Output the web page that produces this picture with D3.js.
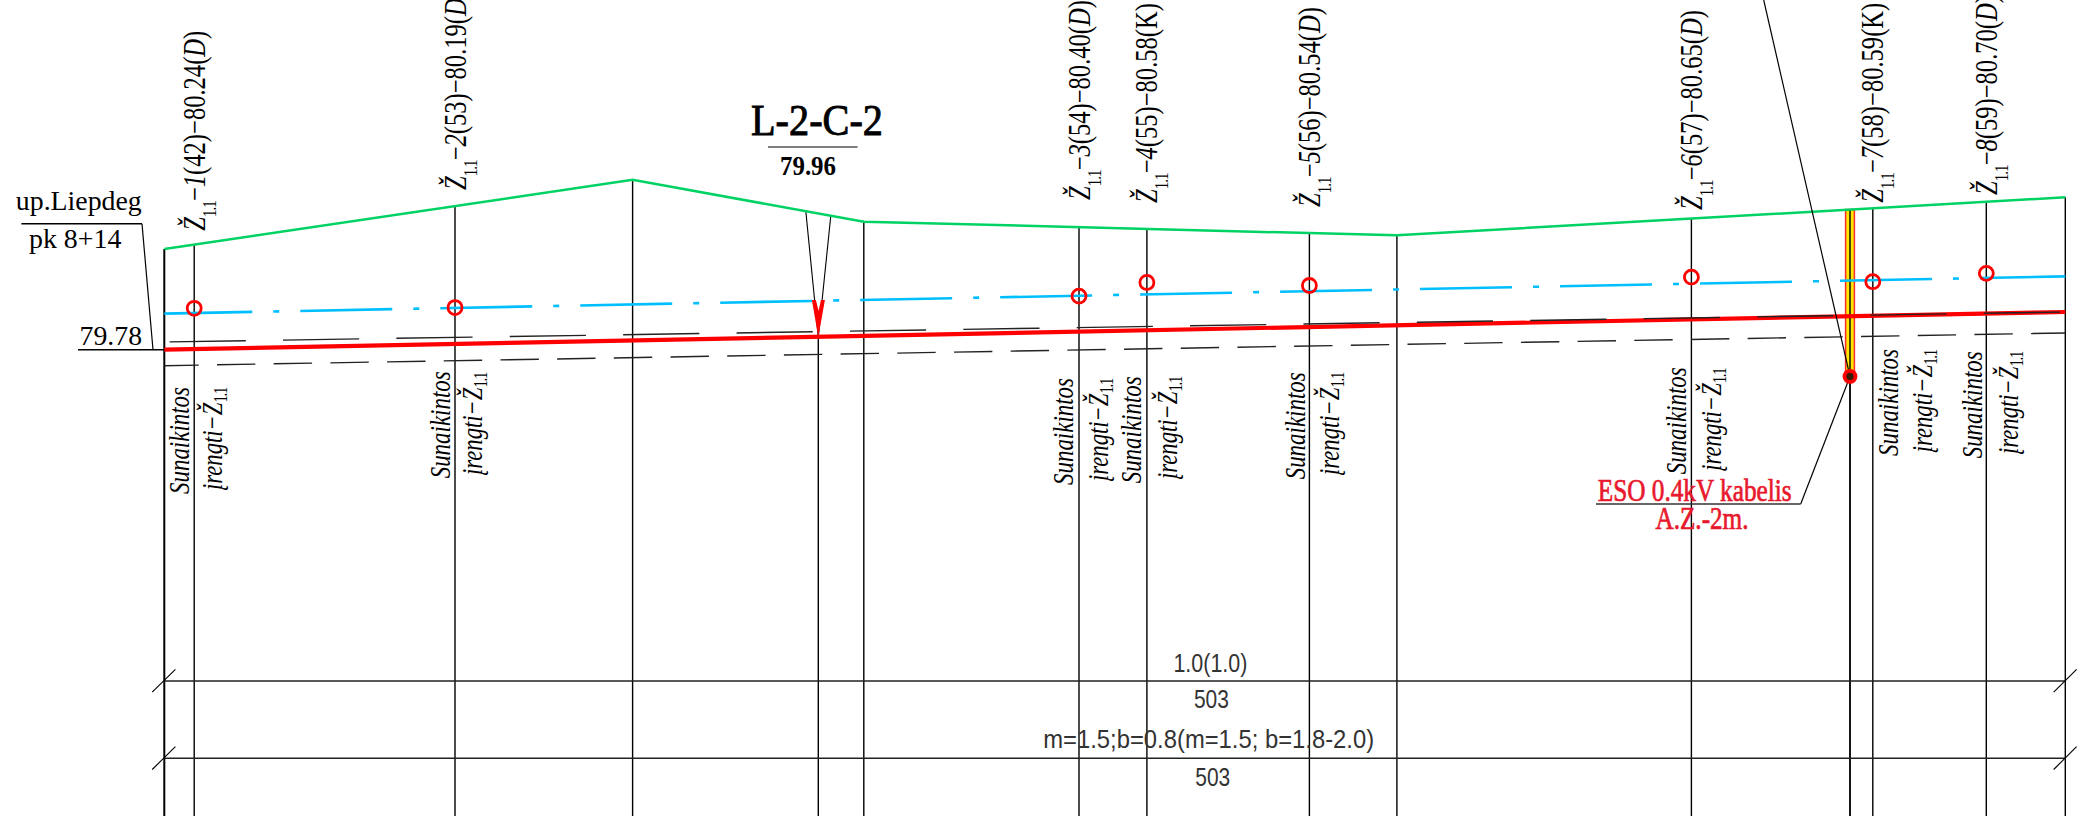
<!DOCTYPE html>
<html>
<head>
<meta charset="utf-8">
<script src="https://cdn.jsdelivr.net/npm/d3@7"></script>
<style>
  html, body { margin: 0; padding: 0; background: #fff; overflow: hidden; }
  svg { display: block; }
</style>
</head>
<body>
<svg></svg>
<script>
// stations in metres from the start of the sheet, elevations in metres
var terrainStations = [0, 46.83, 69.95, 123.26, 190.1];
var terrainLevels = [81.02, 81.93, 81.38, 81.20, 81.70];

var edgeStations = [0, 190.1];
var waterLevels = [80.17, 80.66];
var bottomLevels = [79.695, 80.191];
var upperDashLevels = [79.797, 80.191];
var lowerDashLevels = [79.485, 79.915];

// wells
var wellStations = [2.99, 29.07, 91.47, 98.26, 114.51, 152.71, 170.85, 182.2];
var wellLevels = [80.24, 80.25, 80.40, 80.58, 80.54, 80.65, 80.59, 80.70];
var wellNumbers = ["1", "2", "3", "4", "5", "6", "7", "8"];
var wellCodes = ["42", "53", "54", "55", "56", "57", "58", "59"];
var wellMarks = ["80.24", "80.19", "80.40", "80.58", "80.54", "80.65", "80.59", "80.70"];
var wellTypes = ["D", "D", "D", "K", "D", "D", "K", "D"];

// other cross sections without a well
var plainStations = [0, 46.83, 69.95, 123.26, 190.1];
var culvertStation = 65.4;
var cableStation = 168.57;
var cableLevel = 79.343;

var svgWidth = 2087, svgHeight = 816;

var x = d3.scaleLinear().domain([0, 190.1]).range([164.3, 2065.3]);
var y = d3.scaleLinear().domain([79, 82]).range([402.54, 174.54]);
var terrainAt = d3.scaleLinear().domain(terrainStations).range(terrainLevels);

var svg = d3.select("svg")
  .attr("width", svgWidth)
  .attr("height", svgHeight)
  .attr("viewBox", "0 0 " + svgWidth + " " + svgHeight);

var serif = "'Liberation Serif', serif";
var sans = "'Liberation Sans', sans-serif";

var line = d3.line()
  .x(function(d) { return x(d[0]); })
  .y(function(d) { return y(d[1]); });

function pairs(xs, ys) {
  return xs.map(function(v, i) { return [v, ys[i]]; });
}

function seg(x1, y1, x2, y2, w, col) {
  return svg.append("line")
    .attr("x1", x1).attr("y1", y1).attr("x2", x2).attr("y2", y2)
    .attr("stroke", col || "#000")
    .attr("stroke-width", w);
}

// squeeze a text to the width it has in the drawing
function fit(t, px, x0, y0, rotated) {
  var k = px / t.node().getComputedTextLength();
  t.attr("transform", "translate(" + x0 + "," + y0 + ")" + (rotated ? " rotate(-90)" : "") + " scale(" + k + ",1)");
  return t;
}

function label(str, cx, base, px, size, col, fam) {
  var t = svg.append("text")
    .attr("text-anchor", "middle")
    .attr("font-family", fam || serif)
    .attr("font-size", size)
    .attr("fill", col || "#000")
    .text(str);
  return fit(t, px, cx, base);
}

// vertical section lines
var allVerticals = plainStations.concat(wellStations, [cableStation]);
svg.selectAll(".section")
  .data(allVerticals)
  .enter()
  .append("line")
  .attr("class", "section")
  .attr("x1", function(d) { return x(d); })
  .attr("x2", function(d) { return x(d); })
  .attr("y1", function(d) { return y(terrainAt(d)); })
  .attr("y2", svgHeight)
  .attr("stroke", "#000")
  .attr("stroke-width", function(d) { return d === 0 ? 2 : 1.4; });

// culvert pointer
var tipY = y(79.86);
seg(x(culvertStation), tipY, x(culvertStation), svgHeight, 1.4);
seg(805.8, y(terrainAt(64.15)), x(culvertStation), tipY, 1.1);
seg(830.8, y(terrainAt(66.65)), x(culvertStation), tipY, 1.1);

// cable strip
svg.append("rect")
  .attr("x", x(cableStation) - 4.4)
  .attr("y", y(terrainAt(cableStation)))
  .attr("width", 8.8)
  .attr("height", y(cableLevel) - y(terrainAt(cableStation)))
  .attr("fill", "#ffe600")
  .attr("stroke", "#ff2a2a")
  .attr("stroke-width", 1.5);
seg(x(cableStation), y(terrainAt(cableStation)), x(cableStation), svgHeight, 1.4);

// terrain
svg.append("path")
  .attr("d", line(pairs(terrainStations, terrainLevels)))
  .attr("fill", "none")
  .attr("stroke", "#00d264")
  .attr("stroke-width", 2.5);

// water level, dash dot
svg.append("path")
  .attr("d", line(pairs(edgeStations, waterLevels)))
  .attr("fill", "none")
  .attr("stroke", "#00bfff")
  .attr("stroke-width", 2.6)
  .attr("stroke-dasharray", "92,21,6,21")
  .attr("stroke-dashoffset", 4);

// ditch bottom
svg.append("path")
  .attr("d", line(pairs(edgeStations, bottomLevels)))
  .attr("fill", "none")
  .attr("stroke", "#ff0000")
  .attr("stroke-width", 4.2);

svg.append("path")
  .attr("d", line(pairs(edgeStations, upperDashLevels)))
  .attr("fill", "none")
  .attr("stroke", "#222")
  .attr("stroke-width", 1.4)
  .attr("stroke-dasharray", "76.2,37.2")
  .attr("stroke-dashoffset", -5.3);

svg.append("path")
  .attr("d", line(pairs(edgeStations, lowerDashLevels)))
  .attr("fill", "none")
  .attr("stroke", "#222")
  .attr("stroke-width", 1.4)
  .attr("stroke-dasharray", "38.4,18.3")
  .attr("stroke-dashoffset", 4);

// red arrow head of the culvert
var cx = x(culvertStation);
svg.append("path")
  .attr("d", "M" + (cx - 6.4) + ",300 L" + cx + "," + tipY + " L" + (cx + 6.6) + ",300 L" + (cx + 2.6) + ",300 L" + (cx + 0.3) + ",311 L" + (cx - 2.4) + ",300 Z")
  .attr("fill", "#ff0000");

// well circles
svg.selectAll(".well")
  .data(wellStations)
  .enter()
  .append("circle")
  .attr("class", "well")
  .attr("cx", function(d) { return x(d); })
  .attr("cy", function(d, i) { return y(wellLevels[i]); })
  .attr("r", 7)
  .attr("fill", "none")
  .attr("stroke", "#ff0000")
  .attr("stroke-width", 2.8);

// cable point and its leaders
seg(1763.7, 0, x(cableStation), y(cableLevel), 1.2);
seg(x(cableStation), y(cableLevel), 1800.7, 504, 1.2);
seg(1800.7, 504, 1596, 504, 1.6, "#333");
svg.append("circle")
  .attr("cx", x(cableStation))
  .attr("cy", y(cableLevel))
  .attr("r", 7.4)
  .attr("fill", "#ff0000");
svg.append("circle")
  .attr("cx", x(cableStation))
  .attr("cy", y(cableLevel))
  .attr("r", 3.6)
  .attr("fill", "#3a1a00");

// rotated well labels above the terrain
var wellLabelBottoms = [230.7, 190, 200, 203, 207, 210, 202.7, 195];
wellStations.forEach(function(st, i) {
  var t = svg.append("text")
    .attr("font-family", serif)
    .attr("font-size", 31)
    .attr("fill", "#000");
  t.append("tspan").attr("font-style", "italic").text("\u017D");
  t.append("tspan").attr("font-size", 19).attr("dy", 11).attr("letter-spacing", -1.2).text("1.1");
  t.append("tspan").attr("dy", -11).text("\u2212");
  t.append("tspan").attr("font-style", "italic").text(wellNumbers[i]);
  t.append("tspan").text("(" + wellCodes[i] + ")\u2212" + wellMarks[i] + "(");
  t.append("tspan").attr("font-style", wellTypes[i] === "D" ? "italic" : "normal").text(wellTypes[i]);
  t.append("tspan").text(")");
  fit(t, 200, x(st) + 10.5, wellLabelBottoms[i], true);
});

// rotated notes below the ditch
var noteBottomsA = [494, 478.3, 485, 483.3, 479.3, 474.3, 456, 458.3];
var noteBottomsB = [490, 475, 481, 479, 475, 470.7, 452.3, 454];
var noteOffsetA = [-5.2, -5, -6.2, -5.5, -4.7, -5.6, 24.9, -4.1];
var noteOffsetB = [27.8, 27, 28.5, 29.9, 30, 29.4, 59.6, 31.3];
wellStations.forEach(function(st, i) {
  var a = svg.append("text")
    .attr("font-family", serif)
    .attr("font-style", "italic")
    .attr("font-size", 30)
    .attr("fill", "#000")
    .text("Sunaikintos");
  fit(a, 107, x(st) + noteOffsetA[i], noteBottomsA[i], true);

  var b = svg.append("text")
    .attr("font-family", serif)
    .attr("font-style", "italic")
    .attr("font-size", 30)
    .attr("fill", "#000");
  b.append("tspan").text("\u012Frengti\u2212\u017D");
  b.append("tspan").attr("font-size", 19).attr("font-style", "normal").attr("dy", 5).attr("letter-spacing", -1.5).text("1.1");
  fit(b, 102, x(st) + noteOffsetB[i], noteBottomsB[i], true);
});

// start of the ditch
seg(21.4, 223.7, 142, 223.7, 1.4);
seg(142, 223.7, 153, y(79.695), 1.2);
seg(78, y(79.695), x(0), y(79.695), 1.4);
label("up.Liepdeg", 78.8, 210, 126, 28);
label("pk 8+14", 75.2, 248.3, 92.4, 28);
label("79.78", 110.8, 345, 62.5, 28);

// culvert title
label("L-2-C-2", 817, 135, 132, 44).attr("stroke", "#000").attr("stroke-width", 0.9);
seg(768, 147, 857.6, 147, 1.2);
label("79.96", 808, 175, 56, 28, "#000").attr("font-weight", "bold");

// cable note
label("ESO 0.4kV kabelis", 1694.7, 500.7, 194, 31, "#e8192c").attr("stroke", "#e8192c").attr("stroke-width", 0.7);
label("A.Z.-2m.", 1702, 529.3, 93, 31, "#e8192c").attr("stroke", "#e8192c").attr("stroke-width", 0.7);

// table lines at the bottom
var tableRows = [681, 758.3];
tableRows.forEach(function(r) {
  seg(x(0), r, x(190.1), r, 1.6, "#222");
  seg(x(0) + 11.1, r - 11.7, x(0) - 12.1, r + 11.2, 1.1);
  seg(x(190.1) + 11.3, r - 11.7, x(190.1) - 11.6, r + 11.2, 1.1);
});
label("1.0(1.0)", 1210.4, 672.3, 74, 26, "#333", sans);
label("503", 1211.4, 708.3, 35, 26, "#333", sans);
label("m=1.5;b=0.8(m=1.5; b=1.8-2.0)", 1208.7, 747.7, 331, 26, "#333", sans);
label("503", 1212.8, 786, 35, 26, "#333", sans);
</script>
</body>
</html>
